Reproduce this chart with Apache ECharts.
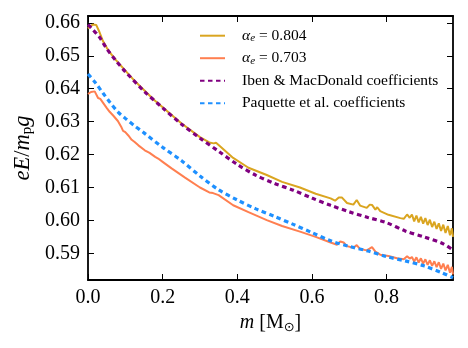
<!DOCTYPE html>
<html>
<head>
<meta charset="utf-8">
<script src="https://cdn.jsdelivr.net/npm/echarts@6/dist/echarts.min.js"></script>
<style>html,body{margin:0;padding:0;background:#fff}#c{width:468px;height:348px}</style>
</head>
<body>
<div id="c"></div>
<script>
// ---- data ----
var seriesNames = ['α_e = 0.804', 'α_e = 0.703', 'Iben & MacDonald coefficients', 'Paquette et al. coefficients'];
var xTicks = [0, 0.2, 0.4, 0.6, 0.8];
var yTicks = [0.59, 0.60, 0.61, 0.62, 0.63, 0.64, 0.65, 0.66];

var mass804 = [0,0.006,0.013,0.022,0.03,0.04,0.05,0.06,0.075,0.1,0.125,0.15,0.175,0.2,0.25,0.3,0.325,0.33,0.337,0.343,0.35,0.389,0.43,0.479,0.52,0.568,0.61,0.65,0.662,0.672,0.68,0.694,0.711,0.72,0.729,0.747,0.755,0.761,0.77,0.775,0.783,0.805,0.837,0.846,0.855,0.862,0.868,0.874,0.88,0.886,0.892,0.898,0.904,0.91,0.916,0.922,0.928,0.934,0.94,0.946,0.952,0.958,0.964,0.97,0.975,0.978];
var alpha804 = [0.6583,0.6590,0.6595,0.6594,0.6574,0.6545,0.6525,0.6508,0.6487,0.6455,0.6424,0.6396,0.6368,0.6344,0.6295,0.6253,0.6237,0.6241,0.6234,0.6236,0.6229,0.6190,0.6160,0.6138,0.6117,0.6100,0.6081,0.6067,0.6060,0.6070,0.6070,0.6053,0.6048,0.6062,0.6045,0.6038,0.6048,0.6047,0.6033,0.6040,0.6028,0.6017,0.6007,0.6005,0.6018,0.6008,0.6018,0.5997,0.6015,0.5994,0.6011,0.5990,0.6007,0.5986,0.6002,0.5980,0.5996,0.5974,0.5991,0.5968,0.5987,0.5962,0.5983,0.5955,0.5976,0.5950];

var mass703 = [0,0.008,0.018,0.022,0.027,0.033,0.04,0.05,0.058,0.068,0.072,0.08,0.09,0.094,0.1,0.108,0.117,0.125,0.135,0.14,0.152,0.165,0.17,0.18,0.188,0.2,0.224,0.26,0.3,0.325,0.33,0.335,0.34,0.35,0.389,0.43,0.479,0.52,0.568,0.61,0.65,0.667,0.676,0.685,0.694,0.711,0.72,0.729,0.747,0.761,0.77,0.783,0.805,0.828,0.846,0.855,0.862,0.868,0.874,0.88,0.886,0.892,0.898,0.904,0.91,0.916,0.922,0.928,0.934,0.94,0.946,0.952,0.958,0.964,0.97,0.975,0.978];
var alpha703 = [0.6384,0.6390,0.6392,0.6390,0.6372,0.6369,0.6358,0.6342,0.6330,0.6318,0.6320,0.6302,0.6282,0.6272,0.6268,0.6258,0.6245,0.6238,0.6228,0.6230,0.6213,0.6205,0.6206,0.6193,0.6188,0.6178,0.6158,0.6130,0.6100,0.6085,0.6089,0.6083,0.6085,0.6077,0.6046,0.6025,0.6001,0.5983,0.5966,0.5950,0.5933,0.5926,0.5936,0.5933,0.5922,0.5917,0.5925,0.5913,0.5909,0.5919,0.5905,0.5896,0.5892,0.5885,0.5882,0.5891,0.5884,0.5889,0.5875,0.5888,0.5872,0.5885,0.5869,0.5882,0.5865,0.5879,0.5862,0.5876,0.5858,0.5873,0.5853,0.5869,0.5848,0.5865,0.5841,0.5859,0.5836];

var massIben = [0,0.01,0.03,0.05,0.075,0.1,0.15,0.2,0.25,0.3,0.35,0.4,0.45,0.5,0.55,0.6,0.65,0.7,0.75,0.8,0.85,0.9,0.95,0.978];
var iben = [0.6595,0.6583,0.6558,0.6522,0.6485,0.6452,0.6393,0.6342,0.6293,0.6250,0.6210,0.6170,0.6137,0.6112,0.6092,0.6068,0.6046,0.6026,0.6009,0.5993,0.5968,0.5950,0.5930,0.5910];

var massPaq = [0,0.02,0.04,0.06,0.08,0.1,0.125,0.15,0.2,0.25,0.3,0.35,0.4,0.45,0.5,0.55,0.6,0.65,0.7,0.75,0.8,0.85,0.9,0.95,0.978];
var paquette = [0.6445,0.6418,0.6387,0.6357,0.6330,0.6310,0.6287,0.6266,0.6222,0.6182,0.6135,0.6093,0.6062,0.6035,0.6012,0.5988,0.5963,0.5938,0.5921,0.5907,0.5890,0.5877,0.5862,0.5840,0.5826];

var xMin = 0, xMax = 0.978, yMin = 0.5819, yMax = 0.6621;

function pairs(xs, ys) { return xs.map(function (x, i) { return [x, ys[i]]; }); }

var FONT = 'Liberation Serif';
var chart = echarts.init(document.getElementById('c'), null, { renderer: 'canvas' });

function frameAxis(common, extra) { return Object.assign({}, common, extra); }

var xCommon = {
  type: 'value', min: xMin, max: xMax,
  splitLine: { show: false },
  axisLine: { show: true, onZero: false, lineStyle: { color: '#000', width: 1.8 } },
  axisTick: { show: true, inside: true, length: 6, customValues: xTicks, lineStyle: { color: '#000', width: 1 } }
};
var yCommon = {
  type: 'value', min: yMin, max: yMax,
  splitLine: { show: false },
  axisLine: { show: true, onZero: false, lineStyle: { color: '#000', width: 1.8 } },
  axisTick: { show: true, inside: true, length: 6, customValues: yTicks, lineStyle: { color: '#000', width: 1 } }
};

var option = {
  animation: false,
  backgroundColor: '#fff',
  grid: { left: 88, right: 15, top: 16, bottom: 68, containLabel: false },
  xAxis: [
    frameAxis(xCommon, {
      position: 'bottom',
      axisLabel: { show: true, customValues: xTicks, margin: 8, fontFamily: FONT, fontSize: 20, color: '#000',
        formatter: function (v) { return v.toFixed(1); } },
      name: '{i|m}{n| [M}{s|⊙}{n|]}',
      nameLocation: 'middle', nameGap: 32,
      nameTextStyle: {
        rich: {
          i: { fontFamily: FONT, fontStyle: 'italic', fontSize: 20, color: '#000', lineHeight: 22, verticalAlign: 'middle' },
          n: { fontFamily: FONT, fontSize: 20, color: '#000', lineHeight: 22, verticalAlign: 'middle' },
          s: { fontFamily: 'DejaVu Sans', fontSize: 13, color: '#000', lineHeight: 13, verticalAlign: 'bottom' }
        }
      }
    }),
    frameAxis(xCommon, { position: 'top', axisLabel: { show: false } })
  ],
  yAxis: [
    frameAxis(yCommon, {
      position: 'left',
      axisLabel: { show: true, customValues: yTicks, margin: 8, fontFamily: FONT, fontSize: 20, color: '#000',
        formatter: function (v) { return v.toFixed(2); } },
      name: '{i|eE}{n|/}{i|m}{s|p}{i|g}',
      nameLocation: 'middle', nameGap: 50,
      nameTextStyle: {
        rich: {
          i: { fontFamily: FONT, fontStyle: 'italic', fontSize: 22.5, color: '#000', lineHeight: 23, verticalAlign: 'middle' },
          n: { fontFamily: FONT, fontSize: 22.5, color: '#000', lineHeight: 23, verticalAlign: 'middle' },
          s: { fontFamily: FONT, fontSize: 15, color: '#000', lineHeight: 14, verticalAlign: 'bottom' }
        }
      }
    }),
    frameAxis(yCommon, { position: 'right', axisLabel: { show: false } })
  ],
  legend: {
    orient: 'vertical', left: 199, top: 27.7, padding: 0,
    itemWidth: 25, itemHeight: 14, itemGap: 6.5,
    itemStyle: { opacity: 0 },
    data: seriesNames,
    formatter: function (name) {
      if (name.indexOf('α_e') === 0) {
        return '{pad|}{gi|α}{sub|e}{t|' + name.replace('α_e', '') + '}';
      }
      return '{pad|}{t|' + name + '}';
    },
    textStyle: {
      color: '#000',
      rich: {
        pad: { width: 12 },
        gi: { fontFamily: FONT, fontStyle: 'italic', fontSize: 15.5, color: '#000', lineHeight: 16, verticalAlign: 'middle' },
        sub: { fontFamily: FONT, fontStyle: 'italic', fontSize: 11, color: '#000', lineHeight: 10, verticalAlign: 'bottom' },
        t: { fontFamily: FONT, fontSize: 15.5, color: '#000', lineHeight: 16, verticalAlign: 'middle' }
      }
    }
  },
  series: [
    { name: seriesNames[0], type: 'line', showSymbol: false, symbol: 'none', data: pairs(mass804, alpha804),
      lineStyle: { color: '#DAA520', width: 2 }, itemStyle: { color: '#DAA520' } },
    { name: seriesNames[1], type: 'line', showSymbol: false, symbol: 'none', data: pairs(mass703, alpha703),
      lineStyle: { color: '#FF7F50', width: 2 }, itemStyle: { color: '#FF7F50' } },
    { name: seriesNames[2], type: 'line', showSymbol: false, symbol: 'none', data: pairs(massIben, iben), smooth: 0.3,
      lineStyle: { color: '#800080', width: 3.2, type: [4.5, 3.5], cap: 'butt' }, itemStyle: { color: '#800080' } },
    { name: seriesNames[3], type: 'line', showSymbol: false, symbol: 'none', data: pairs(massPaq, paquette), smooth: 0.3,
      lineStyle: { color: '#1E90FF', width: 3.2, type: [4.5, 3.5], cap: 'butt' }, itemStyle: { color: '#1E90FF' } }
  ]
};
chart.setOption(option);
</script>
</body>
</html>
